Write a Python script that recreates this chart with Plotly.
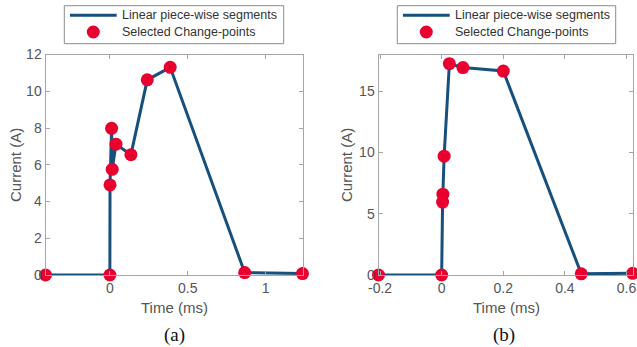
import plotly.graph_objects as go

# ---- data ----
t_a = [-0.413, 0.0, 0.001, 0.011, 0.015, 0.039, 0.135, 0.240, 0.387, 0.865, 1.236]
i_a = [0, 0, 4.9, 7.98, 5.75, 7.12, 6.55, 10.62, 11.3, 0.13, 0.08]

t_b = [-0.205, 0.0, 0.003, 0.004, 0.008, 0.025, 0.069, 0.2, 0.453, 0.62]
i_b = [0, 0, 5.95, 6.6, 9.7, 17.25, 16.93, 16.65, 0.1, 0.14]

xticks_a = [0, 0.5, 1]
xticklabels_a = ["0", "0.5", "1"]
yticks_a = [0, 2, 4, 6, 8, 10, 12]
xticks_b = [-0.2, 0, 0.2, 0.4, 0.6]
xticklabels_b = ["-0.2", "0", "0.2", "0.4", "0.6"]
yticks_b = [0, 5, 10, 15]

line_name = "Linear piece-wise segments"
pts_name = "Selected Change-points"
panel_labels = ["(a)", "(b)"]

LINE_C = "#174f7d"
MARK_C = "#e8002e"
AX_C = "#a6a6a6"
TXT_C = "#555555"
FONT = "Liberation Sans, Arial, sans-serif"

W, H = 637, 347

fig = go.Figure()

def add_panel(t, i, xa, ya):
    fig.add_trace(go.Scatter(x=t, y=i, mode="lines", name=line_name,
                             line=dict(color=LINE_C, width=3),
                             xaxis=xa, yaxis=ya, cliponaxis=False, showlegend=False))
    fig.add_trace(go.Scatter(x=t, y=i, mode="markers", name=pts_name,
                             marker=dict(color=MARK_C, size=13),
                             xaxis=xa, yaxis=ya, cliponaxis=False, showlegend=False))

add_panel(t_a, i_a, "x", "y")
add_panel(t_b, i_b, "x2", "y2")

ydom = [(H - 275) / H, (H - 54.5) / H]
axis_common = dict(showline=True, linecolor=AX_C, linewidth=1, mirror="allticks",
                   ticks="inside", ticklen=4, tickcolor=AX_C, showgrid=False,
                   zeroline=False, automargin=False,
                   tickfont=dict(family=FONT, size=14, color=TXT_C))

fig.update_layout(
    template="none",
    width=W, height=H,
    margin=dict(l=0, r=0, t=0, b=0, autoexpand=False),
    plot_bgcolor="white", paper_bgcolor="white",
    xaxis=dict(domain=[45.5 / W, 302.5 / W], range=[min(t_a), max(t_a)],
               tickvals=xticks_a, ticktext=xticklabels_a, anchor="y", **axis_common),
    yaxis=dict(domain=ydom, range=[0, 12], tickvals=yticks_a, anchor="x", **axis_common),
    xaxis2=dict(domain=[378.5 / W, 632.7 / W], range=[min(t_b), max(t_b)],
                tickvals=xticks_b, ticktext=xticklabels_b, anchor="y2", **axis_common),
    yaxis2=dict(domain=ydom, range=[0, 18], tickvals=yticks_b, anchor="x2", **axis_common),
    showlegend=False,
)

# ---- legend boxes (drawn in paper pixels) ----
def px(x):
    return x / W

def py(y):
    return 1 - y / H

def legend_box(left, width):
    top, bottom = 5.7, 43.7
    row1, row2 = 15.3, 32.0
    fig.add_shape(type="rect", xref="paper", yref="paper",
                  x0=px(left), x1=px(left + width), y0=py(bottom), y1=py(top),
                  line=dict(color="#8c8c8c", width=1), fillcolor="white", layer="above")
    fig.add_shape(type="line", xref="paper", yref="paper",
                  x0=px(left + 5.7), x1=px(left + 52.4), y0=py(row1), y1=py(row1),
                  line=dict(color=LINE_C, width=3), layer="above")
    cx, r = left + 29, 6.5
    fig.add_shape(type="circle", xref="paper", yref="paper",
                  x0=px(cx - r), x1=px(cx + r), y0=py(row2 + r), y1=py(row2 - r),
                  line=dict(width=0), fillcolor=MARK_C, layer="above")
    for txt, yy in [(line_name, row1), (pts_name, row2)]:
        fig.add_annotation(xref="paper", yref="paper", showarrow=False,
                           x=px(left + 55.5), y=py(yy), xanchor="left", yanchor="middle",
                           text=txt, font=dict(family=FONT, size=12.5, color="#333333"))

legend_box(64.3, 219.4)
legend_box(397.3, 218.4)

anns = [
    dict(text="Time (ms)", x=174 / W, y=1 - 307 / H),
    dict(text="Time (ms)", x=506 / W, y=1 - 307 / H),
    dict(text="Current (A)", x=15 / W, y=1 - 165 / H, textangle=-90),
    dict(text="Current (A)", x=346 / W, y=1 - 165 / H, textangle=-90),
]
for a in anns:
    fig.add_annotation(xref="paper", yref="paper", showarrow=False,
                       xanchor="center", yanchor="middle",
                       font=dict(family=FONT, size=15, color=TXT_C), **a)
for lbl, xc in zip(panel_labels, [174, 504]):
    fig.add_annotation(xref="paper", yref="paper", showarrow=False,
                       x=xc / W, y=1 - 335 / H, xanchor="center", yanchor="middle",
                       text=lbl, font=dict(family="Liberation Serif, Times New Roman, serif",
                                           size=19, color="#111111"))

fig.write_html("out.html")
